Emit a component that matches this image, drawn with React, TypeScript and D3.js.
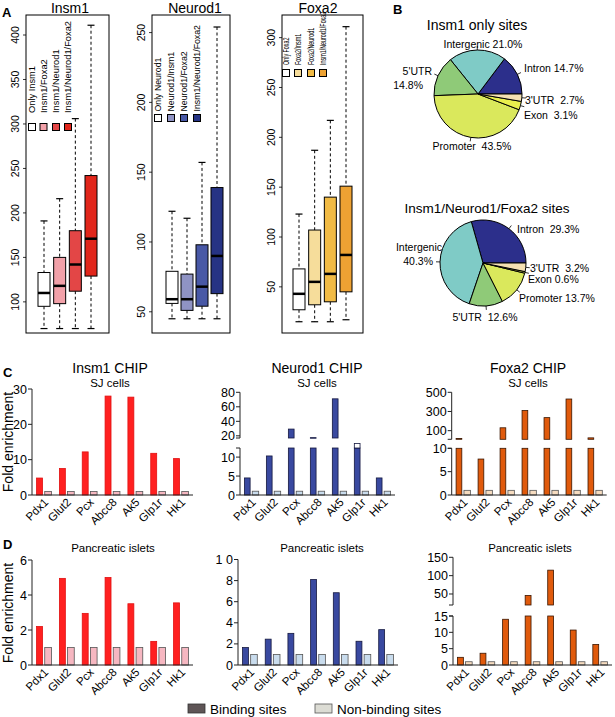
import React from "react";
import * as d3 from "d3";

const FONT = "'Liberation Sans', Arial, Helvetica, sans-serif";

// ---------- Panel A data ----------
const insm1BoxLabels = ["Only Insm1", "Insm1/Foxa2", "Insm1/Neurod1", "Insm1/Neurod1/Foxa2"];
const insm1BoxStats = [
  [70, 95, 110, 133, 191],
  [70, 98, 118, 150, 216],
  [70, 112, 142, 180, 306],
  [70, 129, 171, 242, 411],
];
const insm1BoxTicks = [100, 150, 200, 250, 300, 350, 400];

const neurod1BoxLabels = ["Only Neurod1", "Neurod1/Insm1", "Neurod1/Foxa2", "Insm1/Neurod1/Foxa2"];
const neurod1BoxStats = [
  [45, 56, 59, 79, 122],
  [45, 51, 59, 77, 117],
  [45, 54, 68, 98, 157],
  [45, 63, 90, 139, 254],
];
const neurod1BoxTicks = [50, 100, 150, 200, 250];

const foxa2BoxLabels = ["Only Foxa2", "Foxa2/Insm1", "Foxa2/Neurod1", "Insm1/Neurod1/Foxa2"];
const foxa2BoxStats = [
  [15, 27, 43, 68, 123],
  [15, 32, 55, 107, 187],
  [15, 35, 63, 140, 217],
  [17, 45, 82, 151, 311],
];
const foxa2BoxTicks = [50, 100, 150, 200, 250, 300];

const insm1BoxColors = ["#ffffff", "#f2a1a9", "#e34646", "#e1261b"];
const neurod1BoxColors = ["#ffffff", "#8f93c4", "#4858a6", "#263384"];
const foxa2BoxColors = ["#ffffff", "#f6dd9b", "#f1bb45", "#eda233"];

// ---------- Panel B data ----------
const pieCategories = ["Intron", "Intergenic", "5'UTR", "Promoter", "Exon", "3'UTR"];
const pieColors = ["#2c2f8b", "#7fcbc6", "#8fca78", "#dae85c", "#e9ef4d", "#f4e0b2"];
const insm1OnlyPct = [14.7, 21.0, 14.8, 43.5, 3.1, 2.7];
const tripleSitesPct = [29.3, 40.3, 12.6, 13.7, 0.6, 3.2];

// ---------- Panels C/D data ----------
const genes = ["Pdx1", "Glut2", "Pcx", "Abcc8", "Ak5", "Glp1r", "Hk1"];
const nonBinding = [1, 1, 1, 1, 1, 1, 1];
const insm1SJ = [4.8, 7.5, 12.2, 28, 27.7, 11.8, 10.3];
const neurod1SJ = [4.5, 10.3, 29.3, 17.5, 71, 13.6, 4.5];
const foxa2SJ = [18, 7.7, 130, 310, 236, 430, 25];
const insm1Islet = [2.2, 4.95, 2.95, 5.0, 3.5, 1.35, 3.55];
const neurod1Islet = [1.65, 2.45, 3.0, 8.1, 6.85, 2.25, 3.35];
const foxa2Islet = [2.35, 3.6, 14.0, 46, 115, 10.7, 6.3];

type BoxProps = {
  title: string; titleX: number; x0: number; x1: number; y0: number; y1: number;
  domain: [number, number]; ticks: number[]; stats: number[][];
  labels: string[]; colors: string[]; centers: [number, number];
  legendXs: number[]; legendY: number; legendTextY: number; legendSqueeze: number;
};

function BoxPanel(p: BoxProps) {
  const y = d3.scaleLinear().domain(p.domain).range([p.y1, p.y0]);
  const x = d3.scalePoint<string>().domain(p.labels).range(p.centers);
  const bw = 12;
  return (
    <g>
      <text x={p.titleX} y={13} textAnchor="middle" fontSize={14}>{p.title}</text>
      <rect x={p.x0} y={p.y0} width={p.x1 - p.x0} height={p.y1 - p.y0} fill="none" stroke="#000" strokeWidth={1} />
      {p.ticks.map((t) => (
        <g key={t}>
          <line x1={p.x0} x2={p.x0 - 3} y1={y(t)} y2={y(t)} stroke="#000" strokeWidth={0.8} />
          <text transform={`translate(${p.x0 - 7},${y(t)}) rotate(-90)`} textAnchor="middle" fontSize={10.5}>{t}</text>
        </g>
      ))}
      {p.stats.map((s, i) => {
        const cx = x(p.labels[i])!;
        const [lo, q1, med, q3, hi] = s;
        return (
          <g key={i}>
            <line x1={cx} x2={cx} y1={y(hi)} y2={y(q3)} stroke="#000" strokeDasharray="3,2.5" strokeWidth={1} />
            <line x1={cx} x2={cx} y1={y(q1)} y2={y(lo)} stroke="#000" strokeDasharray="3,2.5" strokeWidth={1} />
            <line x1={cx - 3.5} x2={cx + 3.5} y1={y(hi)} y2={y(hi)} stroke="#000" strokeWidth={1.2} />
            <line x1={cx - 3.5} x2={cx + 3.5} y1={y(lo)} y2={y(lo)} stroke="#000" strokeWidth={1.2} />
            <rect x={cx - bw / 2} y={y(q3)} width={bw} height={y(q1) - y(q3)} fill={p.colors[i]} stroke="#000" strokeWidth={1} />
            <line x1={cx - bw / 2} x2={cx + bw / 2} y1={y(med)} y2={y(med)} stroke="#000" strokeWidth={2.5} />
          </g>
        );
      })}
      {p.labels.map((l, i) => (
        <g key={l}>
          <rect x={p.legendXs[i] - 3.5} y={p.legendY - 3.5} width={7} height={7} fill={p.colors[i]} stroke="#000" strokeWidth={1} />
          <text transform={`translate(${p.legendXs[i] + 3.4},${p.legendTextY}) rotate(-90) scale(${p.legendSqueeze},1)`}
            textAnchor="start" fontSize={9.3}>{l}</text>
        </g>
      ))}
    </g>
  );
}

type PieLabel = { x: number; y: number; anchor: "start" | "middle" | "end"; split?: boolean; gap?: number };
type PieProps = {
  title: string; titleX: number; titleY: number; titleSize: number;
  cx: number; cy: number; r: number; values: number[]; labels: PieLabel[];
};

function PiePanel(p: PieProps) {
  const pie = d3.pie<number>().sort(null).startAngle(Math.PI / 2).endAngle(Math.PI / 2 - 2 * Math.PI);
  const arcs = pie(p.values);
  const arc = d3.arc<d3.PieArcDatum<number>>().innerRadius(0).outerRadius(p.r);
  return (
    <g>
      <text x={p.titleX} y={p.titleY} textAnchor="middle" fontSize={p.titleSize}>{p.title}</text>
      <g transform={`translate(${p.cx},${p.cy})`}>
        {arcs.map((a, i) => (
          <path key={i} d={arc(a)!} fill={pieColors[i]} stroke="#000" strokeWidth={1} />
        ))}
        {arcs.map((a, i) => {
          const m = (a.startAngle + a.endAngle) / 2;
          const sx = Math.sin(m), sy = -Math.cos(m);
          return <line key={"t" + i} x1={sx * p.r} y1={sy * p.r} x2={sx * (p.r + 4)} y2={sy * (p.r + 4)} stroke="#000" strokeWidth={0.8} />;
        })}
      </g>
      {p.labels.map((l, i) => {
        const name = pieCategories[i];
        const pct = p.values[i].toFixed(1) + "%";
        const sp = " ".repeat(l.gap ?? 1);
        if (l.split) {
          return (
            <g key={i}>
              <text x={l.x} y={l.y} textAnchor={l.anchor} fontSize={10.5}>{name}</text>
              <text x={l.x - (l.anchor === "end" ? 9 : 0)} y={l.y + 14} textAnchor={l.anchor} fontSize={10.5}>{pct}</text>
            </g>
          );
        }
        return (
          <text key={i} x={l.x} y={l.y} textAnchor={l.anchor} fontSize={10.5} style={{ whiteSpace: "pre" }}>
            {name + sp + pct}
          </text>
        );
      })}
    </g>
  );
}

type Seg = { domain: [number, number]; range: [number, number]; ticks: number[]; tickLabels?: string[] };
type BarProps = {
  values: number[]; x0: number; x1: number; lower: Seg; upper?: Seg;
  binColor: string; binStroke: string; nonColor: string; nonStroke: string;
  title?: string; subtitle: string; cx: number; titleY?: number; subY: number; subSize: number;
};

function BarPanel(p: BarProps) {
  const band = d3.scaleBand<string>().domain(genes).range([p.x0, p.x1]).paddingInner(0.35).paddingOuter(0.2);
  const bw = band.bandwidth();
  const yl = d3.scaleLinear().domain(p.lower.domain).range(p.lower.range);
  const yu = p.upper ? d3.scaleLinear().domain(p.upper.domain).range(p.upper.range) : null;
  const lowTop = p.lower.domain[1];
  const y0 = yl(0);
  const segs = p.upper ? [p.lower, p.upper] : [p.lower];
  const binW = bw * 0.4;
  const nonOff = bw * 0.55;
  const nonW = bw * 0.45;
  return (
    <g>
      {p.title && <text x={p.cx} y={p.titleY} textAnchor="middle" fontSize={14}>{p.title}</text>}
      <text x={p.cx} y={p.subY} textAnchor="middle" fontSize={p.subSize}>{p.subtitle}</text>
      {segs.map((s, si) => {
        const sc = d3.scaleLinear().domain(s.domain).range(s.range);
        return (
          <g key={si}>
            <line x1={p.x0} x2={p.x0} y1={s.range[0]} y2={s.range[1]} stroke="#222" strokeWidth={1} />
            {s.ticks.map((t, ti) => (
              <g key={t}>
                <line x1={p.x0 - 4} x2={p.x0} y1={sc(t)} y2={sc(t)} stroke="#222" strokeWidth={1} />
                <text x={p.x0 - 5} y={sc(t)} dy="0.36em" textAnchor="end" fontSize={12.5}>
                  {s.tickLabels ? s.tickLabels[ti] : t}
                </text>
              </g>
            ))}
            {p.upper && (
              <line x1={p.x0 - 4} x2={p.x0} y1={si === 0 ? s.range[1] : s.range[0]} y2={si === 0 ? s.range[1] : s.range[0]} stroke="#222" strokeWidth={1} />
            )}
          </g>
        );
      })}
      {p.values.map((v, i) => {
        const bx = band(genes[i])!;
        const parts: JSX.Element[] = [];
        if (!yu || v <= lowTop) {
          parts.push(<rect key="a" x={bx} y={yl(v)} width={binW} height={y0 - yl(v)} fill={p.binColor} stroke={p.binStroke} strokeWidth={0.8} />);
        } else if (v >= p.upper!.domain[0]) {
          parts.push(<rect key="a" x={bx} y={yl(lowTop)} width={binW} height={y0 - yl(lowTop)} fill={p.binColor} stroke={p.binStroke} strokeWidth={0.8} />);
          const yb = yu(p.upper!.domain[0]);
          parts.push(<rect key="b" x={bx} y={yu(v)} width={binW} height={Math.max(0.6, yb - yu(v))} fill={p.binColor} stroke={p.binStroke} strokeWidth={0.8} />);
        } else {
          parts.push(<rect key="a" x={bx} y={yl(lowTop)} width={binW} height={y0 - yl(lowTop)} fill={p.binColor} stroke={p.binStroke} strokeWidth={0.8} />);
          parts.push(<rect key="c" x={bx} y={yl(v)} width={binW} height={yl(lowTop) - yl(v)} fill="#fff" stroke={p.binStroke} strokeWidth={0.8} />);
        }
        const nb = nonBinding[i];
        parts.push(<rect key="n" x={bx + nonOff} y={yl(nb)} width={nonW} height={y0 - yl(nb)} fill={p.nonColor} stroke={p.nonStroke} strokeWidth={0.8} />);
        return <g key={i}>{parts}</g>;
      })}
      <line x1={p.x0} x2={p.x1} y1={y0} y2={y0} stroke="#222" strokeWidth={1} />
      {genes.map((g) => (
        <text key={g} transform={`translate(${band(g)! + bw / 2 + 5},${y0 + 8}) rotate(-45)`} textAnchor="end" fontSize={11.5}>{g}</text>
      ))}
    </g>
  );
}

export default function App() {
  return (
    <svg width={615} height={717} style={{ position: "absolute", left: 0, top: 0 }} fontFamily={FONT}>
      <rect x={0} y={0} width={615} height={717} fill="#fff" />
      {/* Panel labels */}
      <text x={2} y={17} fontSize={13} fontWeight="bold">A</text>
      <text x={393} y={14} fontSize={13} fontWeight="bold">B</text>
      <text x={3} y={377} fontSize={13} fontWeight="bold">C</text>
      <text x={3} y={549} fontSize={13} fontWeight="bold">D</text>

      {/* Panel A */}
      <BoxPanel title="Insm1" titleX={70} x0={26} x1={109} y0={15} y1={333} domain={[65, 422.5]} ticks={insm1BoxTicks}
        stats={insm1BoxStats} labels={insm1BoxLabels} colors={insm1BoxColors} centers={[44, 91]}
        legendXs={[32, 43.5, 56, 68]} legendY={127} legendTextY={113} legendSqueeze={1} />
      <BoxPanel title="Neurod1" titleX={195} x0={152} x1={230} y0={15} y1={333} domain={[34.8, 262.6]} ticks={neurod1BoxTicks}
        stats={neurod1BoxStats} labels={neurod1BoxLabels} colors={neurod1BoxColors} centers={[172, 217]}
        legendXs={[158, 171, 184, 197]} legendY={118} legendTextY={111.5} legendSqueeze={0.94} />
      <BoxPanel title="Foxa2" titleX={318} x0={282} x1={363} y0={15} y1={333} domain={[3.7, 322.7]} ticks={foxa2BoxTicks}
        stats={foxa2BoxStats} labels={foxa2BoxLabels} colors={foxa2BoxColors} centers={[299, 346]}
        legendXs={[286, 298, 311, 323]} legendY={73} legendTextY={65} legendSqueeze={0.58} />

      {/* Panel B */}
      <PiePanel title="Insm1 only sites" titleX={477} titleY={30} titleSize={14} cx={478} cy={94} r={44}
        values={insm1OnlyPct}
        labels={[
          { x: 524, y: 72, anchor: "start" },
          { x: 483, y: 48, anchor: "middle" },
          { x: 432, y: 75, anchor: "end", split: true },
          { x: 472, y: 150, anchor: "middle", gap: 2 },
          { x: 524, y: 119, anchor: "start", gap: 2 },
          { x: 525, y: 104, anchor: "start", gap: 2 },
        ]} />
      <PiePanel title="Insm1/Neurod1/Foxa2 sites" titleX={487} titleY={213} titleSize={13.5} cx={483} cy={263} r={43}
        values={tripleSitesPct}
        labels={[
          { x: 517, y: 233, anchor: "start", gap: 2 },
          { x: 442, y: 251, anchor: "end", split: true },
          { x: 485, y: 321, anchor: "middle", gap: 2 },
          { x: 519, y: 302, anchor: "start" },
          { x: 528, y: 283, anchor: "start" },
          { x: 530, y: 272, anchor: "start", gap: 2 },
        ]} />

      {/* Panel C */}
      <text transform="translate(13,442) rotate(-90)" textAnchor="middle" fontSize={14}>Fold enrichment</text>
      <BarPanel values={insm1SJ} x0={32} x1={193}
        lower={{ domain: [0, 30], range: [495, 389], ticks: [0, 10, 20, 30] }}
        binColor="#ff2020" binStroke="#e01010" nonColor="#f6b7c1" nonStroke="#555"
        title="Insm1 CHIP" subtitle="SJ cells" cx={110} titleY={373} subY={387} subSize={11.5} />
      <BarPanel values={neurod1SJ} x0={240} x1={395}
        lower={{ domain: [0, 12.4], range: [495, 448], ticks: [0, 5, 10] }}
        upper={{ domain: [17, 80], range: [438, 392.3], ticks: [20, 40, 60, 80] }}
        binColor="#3949a0" binStroke="#15183f" nonColor="#c9dced" nonStroke="#555"
        title="Neurod1 CHIP" subtitle="SJ cells" cx={317} titleY={373} subY={387} subSize={11.5} />
      <BarPanel values={foxa2SJ} x0={451.7} x1={606.7}
        lower={{ domain: [0, 10], range: [495, 448.3], ticks: [0, 5, 10] }}
        upper={{ domain: [10, 500], range: [439.3, 392.3], ticks: [100, 300, 500] }}
        binColor="#e05a0c" binStroke="#3a1600" nonColor="#f6dcc0" nonStroke="#555"
        title="Foxa2 CHIP" subtitle="SJ cells" cx={528} titleY={373} subY={387} subSize={11.5} />

      {/* Panel D */}
      <text transform="translate(13,613) rotate(-90)" textAnchor="middle" fontSize={14}>Fold enrichment</text>
      <BarPanel values={insm1Islet} x0={32} x1={193}
        lower={{ domain: [0, 6], range: [665, 560], ticks: [0, 2, 4, 6] }}
        binColor="#ff2020" binStroke="#e01010" nonColor="#f6b7c1" nonStroke="#555"
        subtitle="Pancreatic islets" cx={113} subY={552} subSize={11.5} />
      <BarPanel values={neurod1Islet} x0={238} x1={398}
        lower={{ domain: [0, 10], range: [665, 559.5], ticks: [0, 2, 4, 6, 8, 10], tickLabels: ["0", "2", "4", "6", "8", "1 0"] }}
        binColor="#3949a0" binStroke="#15183f" nonColor="#c9dced" nonStroke="#555"
        subtitle="Pancreatic islets" cx={322} subY={552} subSize={11.5} />
      <BarPanel values={foxa2Islet} x0={453} x1={612}
        lower={{ domain: [0, 15], range: [665, 616], ticks: [0, 5, 10, 15] }}
        upper={{ domain: [20, 150], range: [605, 557.3], ticks: [50, 100, 150] }}
        binColor="#e05a0c" binStroke="#3a1600" nonColor="#f6dcc0" nonStroke="#555"
        subtitle="Pancreatic islets" cx={530} subY={552} subSize={11.5} />

      {/* Legend */}
      <rect x={188} y={704} width={17} height={9} fill="#5e5556" stroke="#333" strokeWidth={0.8} />
      <text x={210} y={714} fontSize={13.5}>Binding sites</text>
      <rect x={315} y={704} width={17} height={9} fill="#dcdcd4" stroke="#555" strokeWidth={0.8} />
      <text x={337} y={714} fontSize={13.5}>Non-binding sites</text>
    </svg>
  );
}
